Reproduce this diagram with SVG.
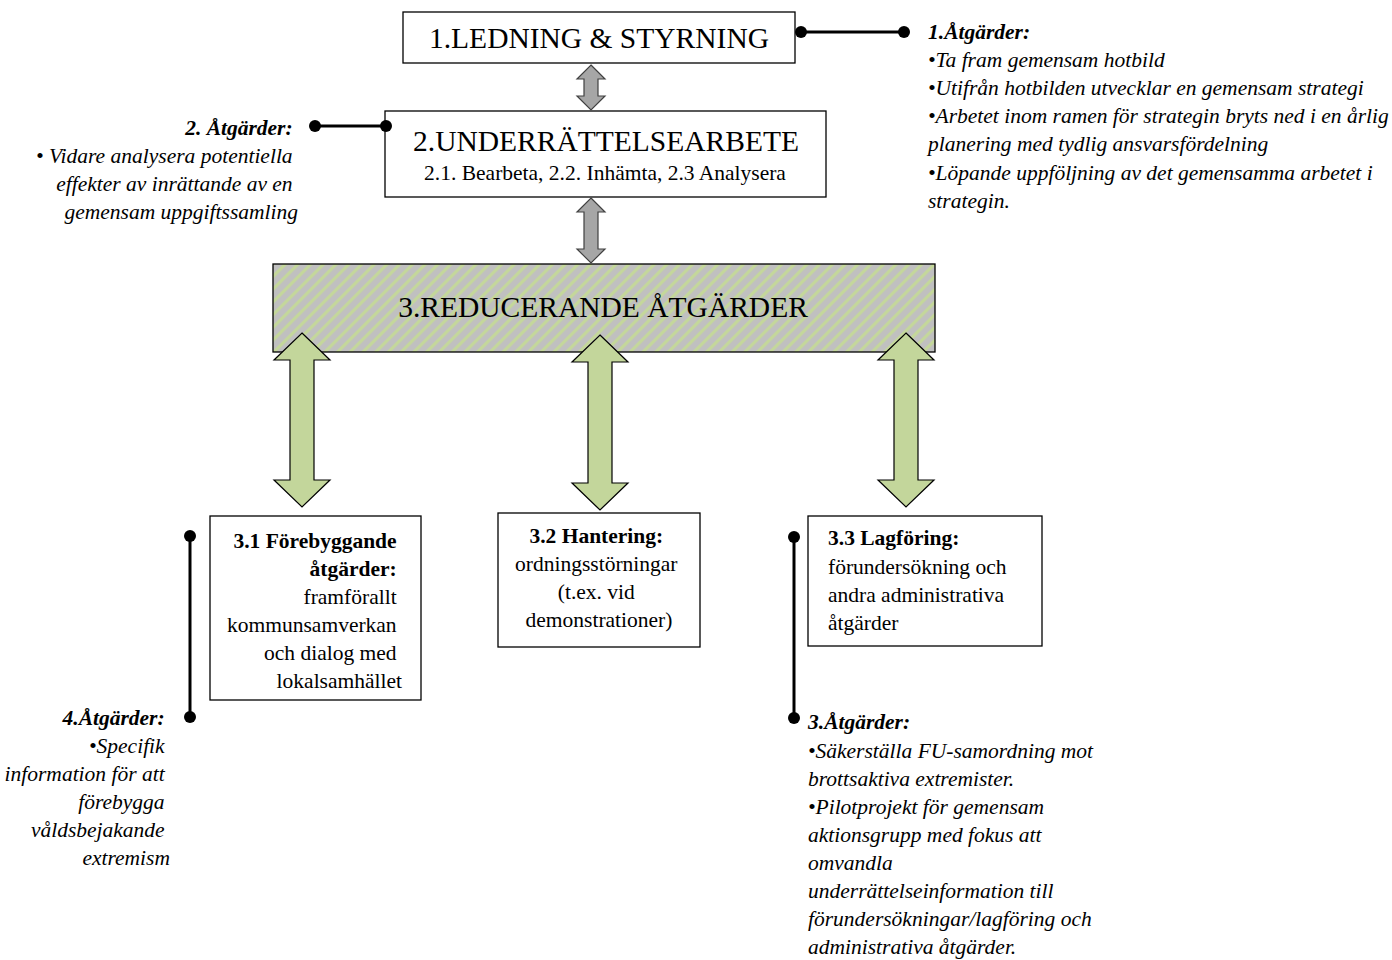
<svg xmlns="http://www.w3.org/2000/svg" width="1392" height="960" viewBox="0 0 1392 960">
<style>
.box{fill:#fff;stroke:#000;stroke-width:1.3}
.t{font-family:"Liberation Serif","Times New Roman",serif;fill:#000}
.big{font-size:29.5px}
.m{font-size:21.5px}
.it{font-size:21.5px;font-style:italic}
.b{font-weight:bold}
.ga{fill:#A6A6A6;stroke:#404040;stroke-width:1.2}
.gr{fill:#C3D69B;stroke:#000;stroke-width:1.2}
.ln{stroke:#000;stroke-width:3;fill:none}
.dot{fill:#000}
</style>
<defs>
<pattern id="hatch" width="9" height="9" patternUnits="userSpaceOnUse" patternTransform="rotate(45)">
<rect width="9" height="9" fill="#C0C0C0"/>
<rect x="0" y="0" width="3.2" height="9" fill="#C4D79B"/>
</pattern>
</defs>
<rect width="1392" height="960" fill="#fff"/>

<g id="node1">
<rect class="box" x="403" y="12" width="392" height="51"/>
<text class="t big" x="599" y="48" text-anchor="middle">1.LEDNING &amp; STYRNING</text>
</g>

<g id="node2">
<rect class="box" x="385" y="111" width="441" height="86"/>
<text class="t big" x="606" y="151" text-anchor="middle">2.UNDERRÄTTELSEARBETE</text>
<text class="t m" x="605" y="180" text-anchor="middle">2.1. Bearbeta, 2.2. Inhämta, 2.3 Analysera</text>
</g>

<g id="node3">
<rect x="273" y="264" width="662" height="88" fill="url(#hatch)" stroke="#000" stroke-width="1.3"/>
<text class="t big" x="603" y="317" text-anchor="middle">3.REDUCERANDE ÅTGÄRDER</text>
</g>

<g id="connectors">
<polygon class="ga" points="591,65 605,79 598,79 598,96 605,96 591,110 577,96 584,96 584,79 577,79"/>
<polygon class="ga" points="591,198 605,212 598,212 598,249 605,249 591,263 577,249 584,249 584,212 577,212"/>
<polygon class="gr" points="302,333 330,360 314,360 314,480 330,480 302,507 274,480 290,480 290,360 274,360"/>
<polygon class="gr" points="600,335 628,362 612,362 612,483 628,483 600,510 572,483 588,483 588,362 572,362"/>
<polygon class="gr" points="906,333 934,360 918,360 918,480 934,480 906,507 878,480 894,480 894,360 878,360"/>

<line class="ln" x1="801" y1="32" x2="904" y2="32"/>
<circle class="dot" cx="801" cy="32" r="6"/>
<circle class="dot" cx="904" cy="32" r="6"/>

<line class="ln" x1="315" y1="126" x2="386" y2="126"/>
<circle class="dot" cx="315" cy="126" r="6"/>
<circle class="dot" cx="386" cy="126" r="6"/>

<line class="ln" x1="190" y1="536" x2="190" y2="717"/>
<circle class="dot" cx="190" cy="536" r="6"/>
<circle class="dot" cx="190" cy="717" r="6"/>

<line class="ln" x1="794" y1="537" x2="794" y2="718"/>
<circle class="dot" cx="794" cy="537" r="6"/>
<circle class="dot" cx="794" cy="718" r="6"/>
</g>

<g id="node31">
<rect class="box" x="210" y="516" width="211" height="184"/>
<text class="t m" text-anchor="end">
<tspan class="b" x="402" y="548">3.1 Förebyggande</tspan>
<tspan class="b" x="402" y="576">åtgärder:</tspan>
<tspan x="402" y="604">framförallt</tspan>
<tspan x="402" y="632">kommunsamverkan</tspan>
<tspan x="402" y="660">och dialog med</tspan>
<tspan x="402" y="688">lokalsamhället</tspan>
</text>
</g>

<g id="node32">
<rect class="box" x="498" y="513" width="202" height="134"/>
<text class="t m" text-anchor="middle">
<tspan class="b" x="599" y="543">3.2 Hantering:</tspan>
<tspan x="599" y="571">ordningsstörningar</tspan>
<tspan x="599" y="599">(t.ex. vid</tspan>
<tspan x="599" y="627">demonstrationer)</tspan>
</text>
</g>

<g id="node33">
<rect class="box" x="808" y="516" width="234" height="130"/>
<text class="t m">
<tspan class="b" x="828" y="545">3.3 Lagföring:</tspan>
<tspan x="828" y="574">förundersökning och</tspan>
<tspan x="828" y="602">andra administrativa</tspan>
<tspan x="828" y="630">åtgärder</tspan>
</text>
</g>

<g id="note1">
<text class="t it">
<tspan class="b" x="928" y="39">1.Åtgärder:</tspan>
<tspan x="928" y="67">•Ta fram gemensam hotbild</tspan>
<tspan x="928" y="95">•Utifrån hotbilden utvecklar en gemensam strategi</tspan>
<tspan x="928" y="123">•Arbetet inom ramen för strategin bryts ned i en årlig</tspan>
<tspan x="928" y="151">planering med tydlig ansvarsfördelning</tspan>
<tspan x="928" y="180">•Löpande uppföljning av det gemensamma arbetet i</tspan>
<tspan x="928" y="208">strategin.</tspan>
</text>
</g>

<g id="note2">
<text class="t it" text-anchor="end">
<tspan class="b" x="298" y="135">2. Åtgärder:</tspan>
<tspan x="298" y="163">• Vidare analysera potentiella</tspan>
<tspan x="298" y="191">effekter av  inrättande av en</tspan>
<tspan x="298" y="219">gemensam uppgiftssamling</tspan>
</text>
</g>

<g id="note4">
<text class="t it" text-anchor="end">
<tspan class="b" x="170" y="725">4.Åtgärder:</tspan>
<tspan x="170" y="753">•Specifik</tspan>
<tspan x="170" y="781">information för att</tspan>
<tspan x="170" y="809">förebygga</tspan>
<tspan x="170" y="837">våldsbejakande</tspan>
<tspan x="170" y="865">extremism</tspan>
</text>
</g>

<g id="note3">
<text class="t it">
<tspan class="b" x="808" y="729">3.Åtgärder:</tspan>
<tspan x="808" y="758">•Säkerställa FU-samordning mot</tspan>
<tspan x="808" y="786">brottsaktiva extremister.</tspan>
<tspan x="808" y="814">•Pilotprojekt för gemensam</tspan>
<tspan x="808" y="842">aktionsgrupp med fokus att</tspan>
<tspan x="808" y="870">omvandla</tspan>
<tspan x="808" y="898">underrättelseinformation till</tspan>
<tspan x="808" y="926">förundersökningar/lagföring och</tspan>
<tspan x="808" y="954">administrativa åtgärder.</tspan>
</text>
</g>
</svg>
